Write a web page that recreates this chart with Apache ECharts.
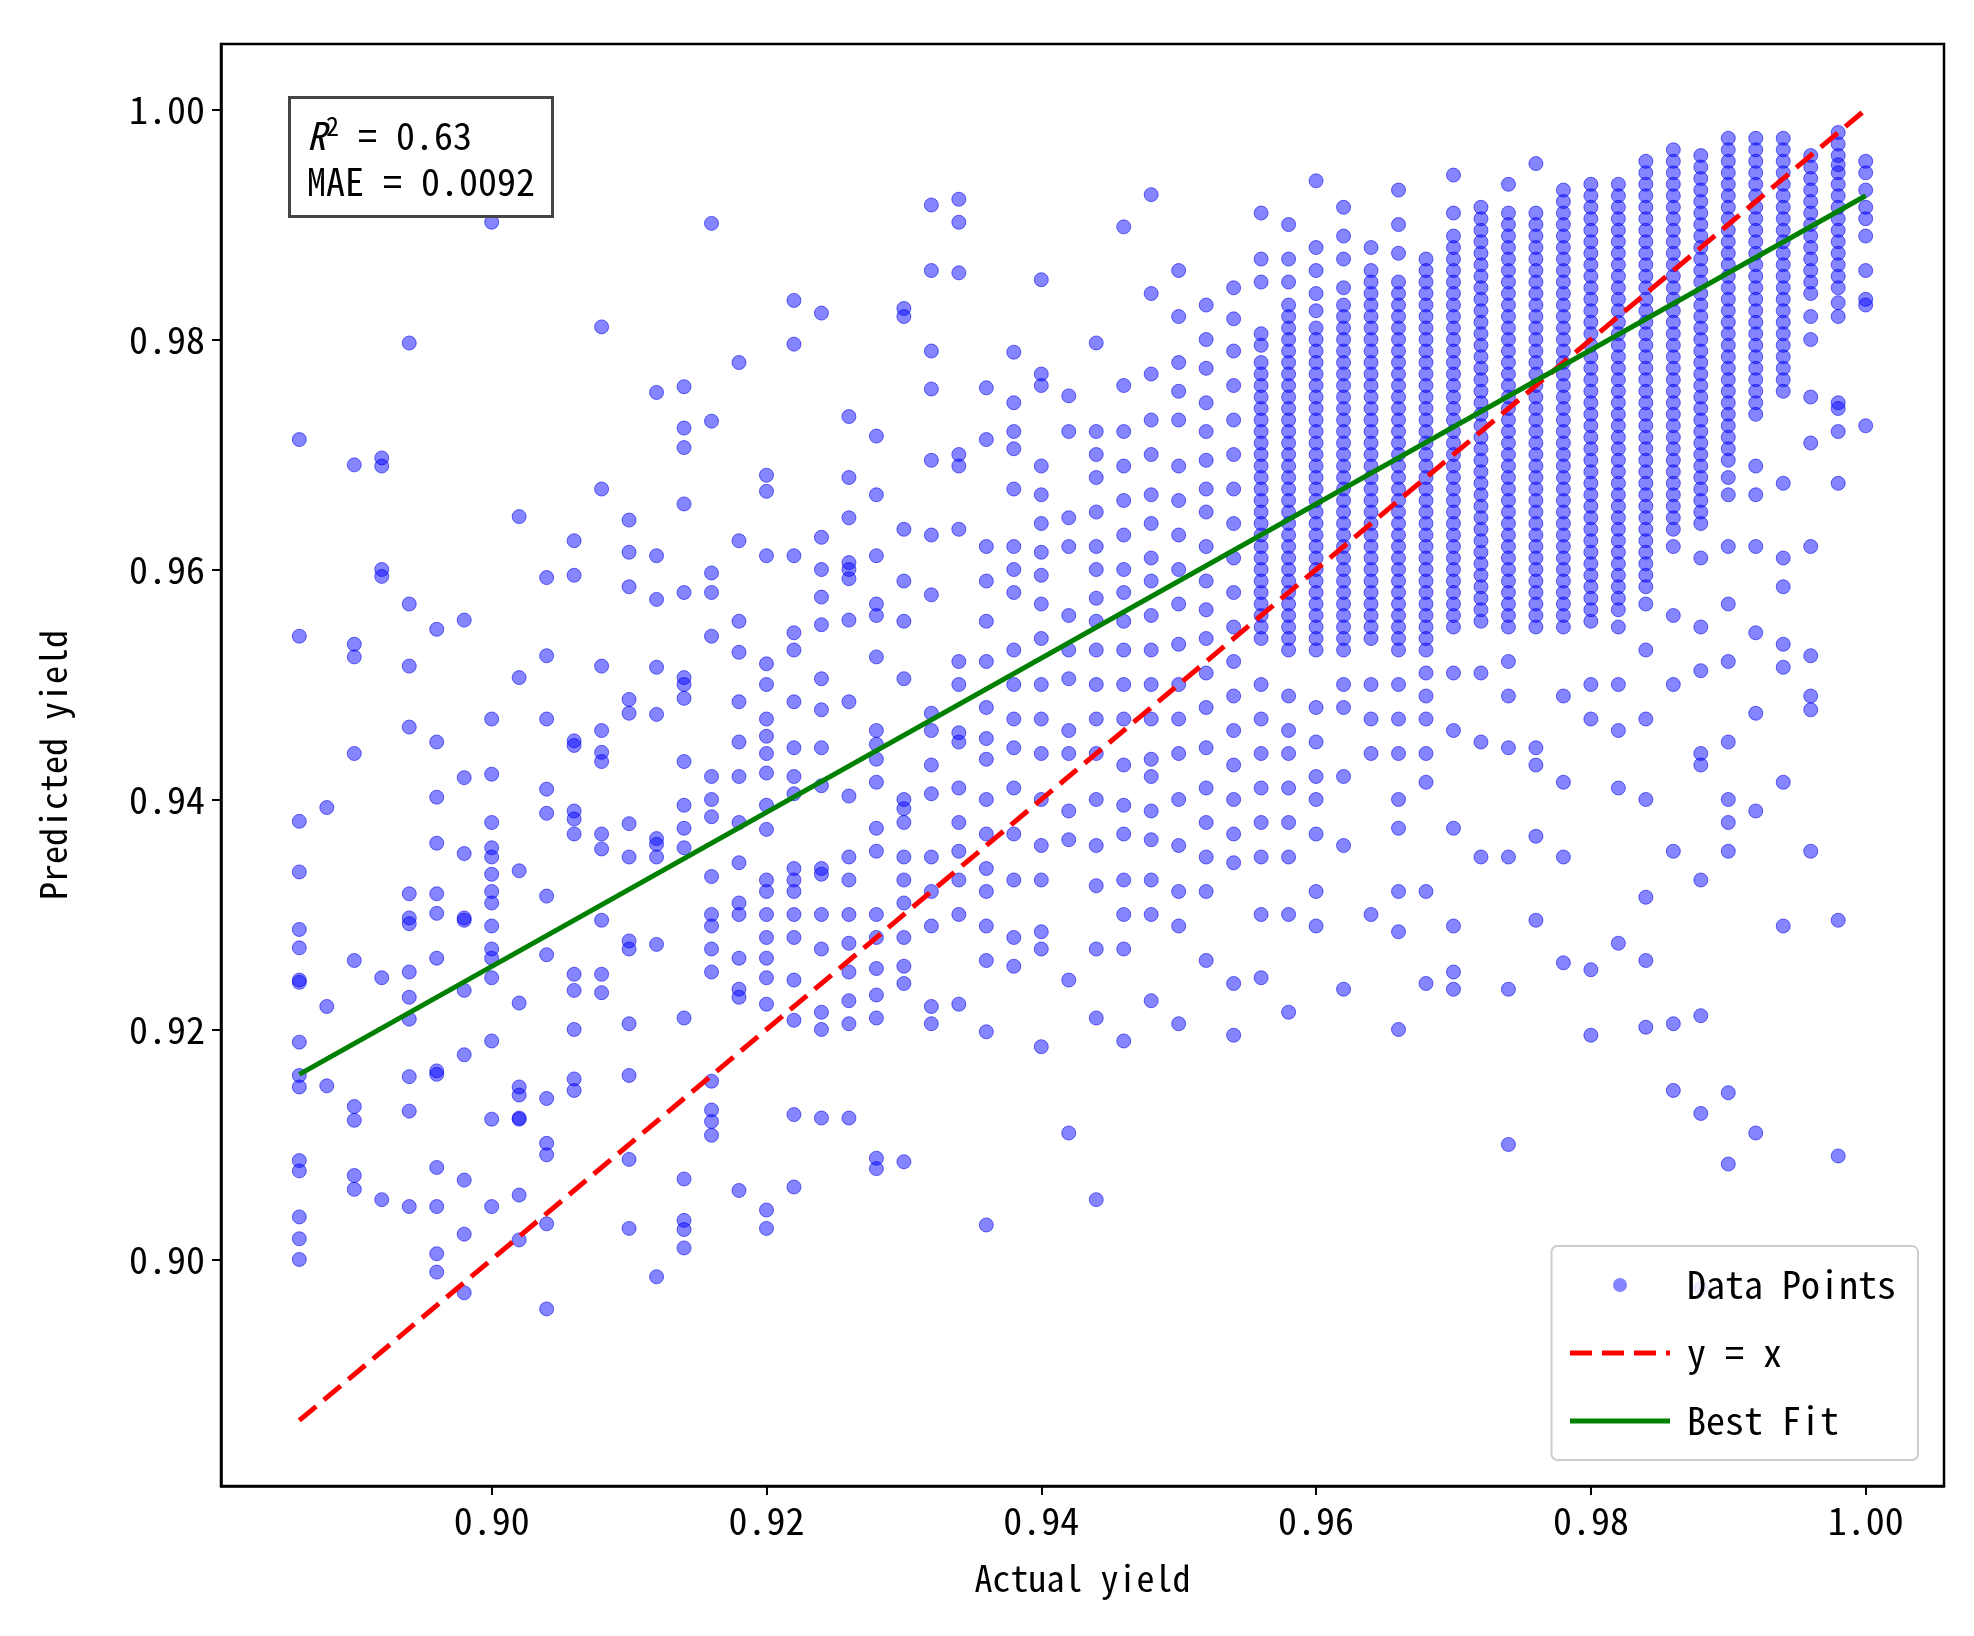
<!DOCTYPE html>
<html>
<head>
<meta charset="utf-8">
<script src="https://cdn.jsdelivr.net/npm/echarts@6/dist/echarts.min.js"></script>
<style>
  html, body { margin: 0; padding: 0; background: #fff; }
  #main { width: 1974px; height: 1636px; }
</style>
</head>
<body>
<div id="main"></div>
<script>
// actual yield columns (step 0.002) and predicted values in 1e-4 units
var columnX = [0.886, 0.888, 0.890, 0.892, 0.894, 0.896, 0.898, 0.900, 0.902, 0.904, 0.906, 0.908, 0.910, 0.912, 0.914, 0.916, 0.918, 0.920, 0.922, 0.924, 0.926, 0.928, 0.930, 0.932, 0.934, 0.936, 0.938, 0.940, 0.942, 0.944, 0.946, 0.948, 0.950, 0.952, 0.954, 0.956, 0.958, 0.960, 0.962, 0.964, 0.966, 0.968, 0.970, 0.972, 0.974, 0.976, 0.978, 0.980, 0.982, 0.984, 0.986, 0.988, 0.990, 0.992, 0.994, 0.996, 0.998, 1.000];
var columnY = [
  [9713,9542,9381,9337,9287,9271,9243,9241,9189,9160,9150,9086,9077,9037,9018,9000],
  [9393,9220,9151],
  [9691,9535,9524,9440,9260,9133,9121,9073,9061],
  [9697,9690,9600,9594,9245,9052],
  [9797,9570,9516,9463,9318,9297,9292,9250,9228,9209,9159,9129,9046],
  [9548,9450,9402,9362,9318,9301,9262,9164,9161,9080,9046,9005,8989],
  [9556,9419,9353,9297,9295,9234,9178,9069,9022,8971],
  [9902,9470,9422,9380,9358,9350,9335,9320,9310,9290,9270,9262,9245,9190,9122,9046],
  [9646,9506,9338,9223,9150,9143,9123,9122,9056,9017],
  [9593,9525,9470,9409,9388,9316,9265,9140,9101,9091,9031,8957],
  [9625,9595,9451,9447,9390,9383,9370,9248,9234,9200,9157,9147],
  [9811,9670,9516,9460,9441,9433,9370,9357,9295,9248,9232],
  [9643,9615,9585,9487,9475,9379,9350,9277,9270,9205,9160,9087,9027],
  [9754,9612,9574,9515,9474,9366,9361,9350,9274,8985],
  [9759,9723,9706,9657,9580,9506,9500,9488,9433,9395,9375,9358,9210,9070,9034,9026,9010],
  [9901,9729,9597,9580,9542,9420,9400,9385,9333,9300,9290,9270,9250,9155,9130,9120,9108],
  [9780,9625,9555,9528,9485,9450,9420,9380,9345,9310,9300,9262,9235,9228,9060],
  [9682,9668,9612,9518,9500,9470,9455,9440,9423,9395,9374,9330,9320,9300,9280,9262,9245,9222,9043,9027],
  [9834,9796,9612,9545,9530,9485,9445,9420,9405,9340,9330,9320,9300,9280,9243,9208,9126,9063],
  [9823,9628,9600,9576,9552,9505,9478,9445,9412,9340,9335,9300,9270,9215,9200,9123],
  [9733,9680,9645,9606,9600,9592,9556,9485,9403,9350,9330,9300,9275,9250,9225,9205,9123],
  [9716,9665,9612,9570,9560,9524,9460,9448,9435,9415,9375,9355,9300,9280,9253,9230,9210,9088,9079],
  [9827,9820,9635,9590,9555,9505,9400,9392,9380,9350,9330,9310,9280,9255,9240,9085],
  [9917,9860,9790,9757,9695,9630,9578,9475,9460,9430,9405,9350,9320,9290,9220,9205],
  [9922,9902,9858,9700,9690,9635,9520,9500,9458,9450,9410,9380,9355,9330,9300,9222],
  [9758,9713,9620,9590,9555,9520,9480,9453,9435,9400,9370,9340,9320,9290,9260,9198,9030],
  [9789,9745,9720,9705,9670,9620,9600,9580,9530,9500,9470,9445,9410,9370,9330,9280,9255],
  [9852,9770,9760,9690,9665,9640,9615,9595,9570,9540,9500,9470,9440,9400,9360,9330,9285,9270,9185],
  [9751,9720,9645,9620,9560,9530,9505,9460,9440,9390,9365,9243,9110],
  [9797,9720,9700,9680,9650,9620,9600,9575,9555,9530,9500,9470,9440,9400,9360,9325,9270,9210,9052],
  [9898,9760,9720,9690,9660,9630,9600,9580,9555,9530,9500,9470,9430,9395,9370,9330,9300,9270,9190],
  [9926,9840,9770,9730,9700,9665,9640,9610,9590,9560,9530,9500,9470,9435,9420,9390,9365,9330,9300,9225],
  [9860,9820,9780,9755,9730,9690,9660,9630,9600,9570,9535,9500,9470,9440,9400,9360,9320,9290,9205],
  [9830,9800,9775,9745,9720,9695,9670,9650,9620,9590,9565,9540,9510,9480,9445,9410,9380,9350,9320,9260],
  [9845,9818,9790,9760,9730,9700,9670,9640,9610,9580,9550,9520,9490,9460,9430,9400,9370,9345,9240,9195],
  [9910,9870,9850,9805,9780,9760,9740,9720,9700,9680,9660,9640,9620,9600,9580,9560,9540,9500,9470,9440,9410,9380,9350,9300,9245],
  [9900,9870,9850,9830,9810,9790,9770,9750,9730,9710,9690,9670,9650,9630,9610,9590,9570,9550,9530,9490,9460,9440,9410,9380,9350,9300,9215],
  [9938,9880,9860,9840,9810,9790,9770,9750,9730,9710,9690,9670,9650,9630,9610,9590,9570,9550,9530,9480,9450,9420,9400,9370,9320,9290],
  [9915,9890,9870,9845,9830,9810,9790,9770,9750,9730,9710,9690,9670,9650,9630,9610,9590,9570,9550,9530,9500,9480,9420,9360,9235],
  [9880,9860,9840,9820,9800,9780,9760,9740,9720,9700,9680,9660,9640,9620,9600,9580,9560,9540,9500,9470,9440,9300],
  [9930,9900,9875,9850,9830,9810,9790,9770,9750,9730,9710,9690,9670,9650,9630,9610,9590,9570,9550,9530,9500,9470,9440,9400,9375,9320,9285,9200],
  [9870,9850,9830,9810,9790,9770,9750,9730,9710,9690,9670,9650,9630,9610,9590,9570,9550,9530,9510,9490,9470,9440,9415,9320,9240],
  [9943,9910,9890,9870,9850,9830,9810,9790,9770,9750,9730,9710,9690,9670,9650,9630,9610,9590,9570,9550,9510,9460,9375,9290,9250,9235],
  [9915,9895,9875,9855,9835,9815,9795,9775,9755,9735,9715,9695,9675,9655,9635,9615,9595,9575,9555,9510,9450,9350],
  [9935,9910,9890,9870,9850,9830,9810,9790,9770,9750,9730,9710,9690,9670,9650,9630,9610,9590,9570,9550,9520,9490,9445,9350,9235,9100],
  [9953,9910,9890,9870,9850,9830,9810,9790,9770,9750,9730,9710,9690,9670,9650,9630,9610,9590,9570,9550,9445,9430,9368,9295],
  [9930,9910,9890,9870,9850,9830,9810,9790,9770,9750,9730,9710,9690,9670,9650,9630,9610,9590,9570,9550,9490,9415,9350,9258],
  [9935,9915,9895,9875,9855,9835,9815,9795,9775,9755,9735,9715,9695,9675,9655,9635,9615,9595,9575,9555,9500,9470,9252,9195],
  [9935,9915,9895,9875,9855,9835,9815,9795,9775,9755,9735,9715,9695,9675,9655,9635,9615,9595,9575,9550,9500,9460,9410,9275],
  [9955,9935,9915,9895,9875,9855,9835,9815,9795,9775,9755,9735,9715,9695,9675,9655,9635,9615,9595,9570,9530,9470,9400,9315,9260,9202],
  [9965,9945,9925,9905,9885,9865,9845,9825,9805,9785,9765,9745,9725,9705,9685,9665,9645,9620,9560,9500,9355,9205,9147],
  [9960,9940,9920,9900,9880,9860,9840,9820,9800,9780,9760,9740,9720,9700,9680,9660,9640,9610,9550,9512,9440,9430,9330,9212,9127,8975],
  [9975,9955,9935,9915,9895,9875,9855,9835,9815,9795,9775,9755,9735,9715,9695,9665,9620,9570,9520,9450,9400,9380,9355,9145,9083],
  [9975,9955,9935,9915,9895,9875,9855,9835,9815,9795,9775,9755,9735,9690,9665,9620,9545,9475,9390,9110],
  [9975,9955,9935,9915,9895,9875,9855,9835,9815,9795,9775,9755,9675,9610,9585,9535,9515,9415,9290],
  [9960,9940,9920,9900,9880,9860,9840,9800,9750,9710,9620,9525,9490,9478,9355],
  [9980,9960,9945,9925,9905,9885,9865,9845,9820,9745,9740,9720,9675,9295,9090],
  [9955,9945,9930,9915,9905,9890,9860,9835,9830,9725]
];
// extra points read from the solid (overlapping) bars of the dense columns, same units
var denseX = [0.956, 0.958, 0.960, 0.962, 0.964, 0.966, 0.968, 0.970, 0.972, 0.974, 0.976, 0.978, 0.980, 0.982, 0.984, 0.986, 0.988, 0.990, 0.992, 0.994, 0.996, 0.998];
var denseY = [
  [9795,9770,9750,9730,9710,9690,9670,9650,9630,9610,9590,9570,9550],
  [9820,9800,9780,9760,9740,9720,9700,9680,9660,9640,9620,9600,9580,9560,9540],
  [9825,9800,9780,9760,9740,9720,9700,9680,9660,9640,9620,9600,9580,9560,9540],
  [9820,9800,9780,9760,9740,9720,9700,9680,9660,9640,9620,9600,9580,9560,9540],
  [9850,9830,9810,9790,9770,9750,9730,9710,9690,9670,9650,9630,9610,9590,9570,9550],
  [9840,9820,9800,9780,9760,9740,9720,9700,9680,9660,9640,9620,9600,9580,9560,9540],
  [9860,9840,9820,9800,9780,9760,9740,9720,9700,9680,9660,9640,9620,9600,9580,9560,9540],
  [9880,9860,9840,9820,9800,9780,9760,9740,9720,9700,9680,9660,9640,9620,9600,9580,9560],
  [9905,9885,9865,9845,9825,9805,9785,9765,9745,9725,9705,9685,9665,9645,9625,9605,9585,9565],
  [9900,9880,9860,9840,9820,9800,9780,9760,9740,9720,9700,9680,9660,9640,9620,9600,9580,9560],
  [9900,9880,9860,9840,9820,9800,9780,9760,9740,9720,9700,9680,9660,9640,9620,9600,9580,9560],
  [9920,9900,9880,9860,9840,9820,9800,9780,9760,9740,9720,9700,9680,9660,9640,9620,9600,9580,9560],
  [9925,9905,9885,9865,9845,9825,9805,9785,9765,9745,9725,9705,9685,9665,9645,9625,9605,9585,9565],
  [9925,9905,9885,9865,9845,9825,9805,9785,9765,9745,9725,9705,9685,9665,9645,9625,9605,9585,9565],
  [9945,9925,9905,9885,9865,9845,9825,9805,9785,9765,9745,9725,9705,9685,9665,9645,9625,9605,9585],
  [9955,9935,9915,9895,9875,9855,9835,9815,9795,9775,9755,9735,9715,9695,9675,9655,9635],
  [9950,9930,9910,9890,9870,9850,9830,9810,9790,9770,9750,9730,9710,9690,9670,9650],
  [9965,9945,9925,9905,9885,9865,9845,9825,9805,9785,9765,9745,9725,9705,9680],
  [9965,9945,9925,9905,9885,9865,9845,9825,9805,9785,9765,9745],
  [9965,9945,9925,9905,9885,9865,9845,9825,9805,9785,9765],
  [9950,9930,9910,9890,9870,9850,9820],
  [9970,9952,9935,9915,9895,9875,9855,9832]
];
var identityLine = [[0.886, 0.886], [1.0, 1.0]];
var fitLine = [[0.886, 0.9161], [1.0, 0.9925]];
var tickValues = [0.90, 0.92, 0.94, 0.96, 0.98, 1.00];
var r2 = 0.63, mae = 0.0092;

var points = [];
columnX.forEach(function (x, i) {
  columnY[i].forEach(function (v) { points.push([x, v / 10000]); });
});
denseX.forEach(function (x, i) {
  denseY[i].forEach(function (v) { points.push([x, v / 10000]); });
});

var font = '"Noto Sans Mono CJK SC", "DejaVu Sans Mono", monospace';
function axisOf(name, pos, gap) {
  return {
    type: 'value', min: 0.8803, max: 1.0057, name: name, position: pos,
    nameLocation: 'middle', nameGap: gap,
    nameTextStyle: { fontFamily: font, fontSize: 36, color: '#000' },
    axisLine: { show: true, onZero: false, lineStyle: { color: '#000', width: 2.5 } },
    axisTick: { show: true, length: 9, customValues: tickValues, lineStyle: { color: '#000', width: 2 } },
    axisLabel: { fontFamily: font, fontSize: 38, color: '#000', margin: 16,
      customValues: tickValues, formatter: function (v) { return v.toFixed(2); } },
    splitLine: { show: false }
  };
}

var chart = echarts.init(document.getElementById('main'));
chart.setOption({
  animation: false,
  grid: { left: 221, right: 30, top: 44, bottom: 150, show: true, borderColor: '#000', borderWidth: 2.5 },
  xAxis: axisOf('Actual yield', 'bottom', 74),
  yAxis: axisOf('Predicted yield', 'left', 150),
  legend: {
    orient: 'vertical', right: 56, bottom: 176,
    padding: [20, 22, 20, 16], itemGap: 30, itemWidth: 100, itemHeight: 14,
    borderColor: '#ccc', borderWidth: 2, borderRadius: 6, backgroundColor: 'rgba(255,255,255,0.85)',
    textStyle: { fontFamily: font, fontSize: 38, color: '#000', padding: [0, 0, 0, 12] },
    data: [
      { name: 'Data Points', icon: 'circle', itemStyle: { color: 'rgba(0,0,255,0.6)', borderWidth: 0 } },
      { name: 'y = x', itemStyle: { opacity: 0 }, lineStyle: { width: 5, color: '#ff0000', type: [22, 10] } },
      { name: 'Best Fit', itemStyle: { opacity: 0 }, lineStyle: { width: 5, color: '#008000' } }
    ]
  },
  graphic: [{
    type: 'text', left: 288, top: 96, z: 100,
    style: {
      text: '{i|R}{s|2} = ' + r2.toFixed(2) + '\nMAE = ' + mae.toFixed(4),
      fontFamily: font, fontSize: 38, fill: '#000', lineHeight: 46,
      backgroundColor: '#fff', borderColor: '#444', borderWidth: 3,
      padding: [14, 16, 10, 16],
      rich: {
        i: { fontStyle: 'italic', fontFamily: font, fontSize: 38 },
        s: { fontSize: 26, verticalAlign: 'top', padding: [0, 0, 20, 0], fontFamily: font }
      }
    }
  }],
  series: [
    {
      name: 'Data Points', type: 'scatter', data: points, symbolSize: 14, z: 2,
      itemStyle: { color: 'rgba(0,0,255,0.6)', borderColor: 'rgba(0,0,230,0.7)', borderWidth: 1 }
    },
    {
      name: 'y = x', type: 'line', data: identityLine, symbol: 'none', z: 3,
      lineStyle: { color: '#ff0000', width: 5, type: [22, 10] }
    },
    {
      name: 'Best Fit', type: 'line', data: fitLine, symbol: 'none', z: 4,
      lineStyle: { color: '#008000', width: 5 }
    }
  ]
});
</script>
</body>
</html>
